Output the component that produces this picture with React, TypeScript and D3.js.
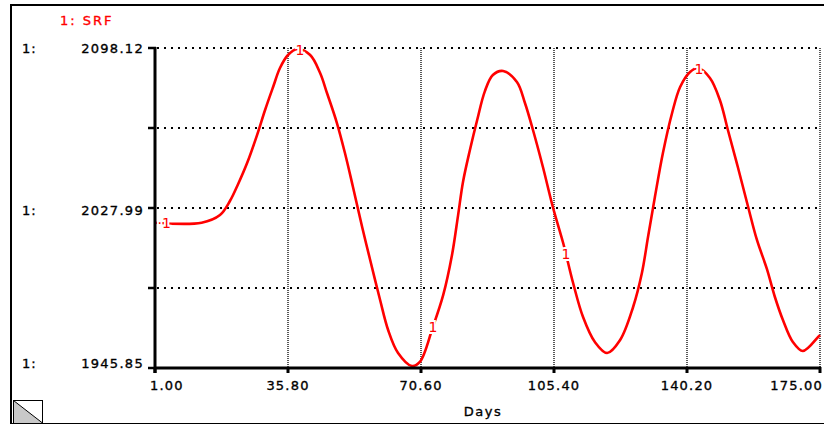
import React from "react";
import * as d3 from "d3";

const days = [1, 13.2, 18.0, 20.6, 22.7, 25.1, 27.7, 29.8, 31.9, 33.7, 35.8, 38.2, 41.6, 44.2, 46.0, 48.6, 50.7, 52.8, 55.2, 57.3, 59.9, 62.0, 64.6, 68.2, 70.3, 73.7, 76.4, 78.7, 80.3, 81.6, 83.4, 85.3, 87.3, 89.4, 92.1, 95.7, 97.8, 99.9, 102.5, 105.1, 107.8, 110.4, 113.0, 116.1, 119.3, 122.7, 126.1, 128.4, 130.0, 131.8, 133.9, 136.3, 138.4, 141.0, 143.1, 146.2, 148.8, 150.9, 153.5, 156.2, 158.5, 161.1, 163.2, 165.3, 167.9, 170.5, 174.5, 175];
const srf = [2015.0, 2015.0, 2018.65, 2025.3, 2033.2, 2043.4, 2056.7, 2068.62, 2079.56, 2088.6, 2094.79, 2097.64, 2094.79, 2086.22, 2076.71, 2062.43, 2048.16, 2031.98, 2012.94, 1997.24, 1978.21, 1963.93, 1952.99, 1946.8, 1948.71, 1965.36, 1980.5, 1999.5, 2018.5, 2034.5, 2049.58, 2063.86, 2077.5, 2085.27, 2087.18, 2081.94, 2071.95, 2059.1, 2041.5, 2022.46, 2005.33, 1986.3, 1970.12, 1958.22, 1952.99, 1959.17, 1974.88, 1991.06, 2008.19, 2027.22, 2048.16, 2067.19, 2079.56, 2086.7, 2088.6, 2083.84, 2073.38, 2059.1, 2041.5, 2022.46, 2006.76, 1993.0, 1979.64, 1968.69, 1958.22, 1953.94, 1960.6, 1961.55];

const xTicks = [1, 35.8, 70.6, 105.4, 140.2, 175];
const xTickLabels = ["1.00", "35.80", "70.60", "105.40", "140.20", "175.00"];
const yMin = 1945.85;
const yMax = 2098.12;
const yTickLabels = ["1945.85", "", "2027.99", "", "2098.12"];
const markerDays = [4.1, 38.9, 73.7, 108.5, 143.3];
const seriesName = "1: SRF";
const xTitle = "Days";

const FONT = "'DejaVu Sans', Verdana, sans-serif";
const RED = "#ff0000";

export default function App() {
  const x = d3.scaleLinear().domain([1, 175]).range([155, 820]);
  const y = d3.scaleLinear().domain([yMin, yMax]).range([368, 48]);
  const yTicks = d3.range(5).map((i) => yMin + (i * (yMax - yMin)) / 4);
  const pts = days.map((d, i) => [d, srf[i]] as [number, number]);
  const line = d3
    .line<[number, number]>()
    .x((d) => x(d[0]))
    .y((d) => y(d[1]))
    .curve(d3.curveCatmullRom.alpha(0.5));
  const interp = (t: number) => {
    const i = d3.bisectLeft(days, t);
    if (i <= 0) return srf[0];
    const t0 = days[i - 1], t1 = days[i];
    return srf[i - 1] + ((srf[i] - srf[i - 1]) * (t - t0)) / (t1 - t0);
  };
  const yLabelBase = [368, 0, 215, 0, 53];
  const txt = { stroke: "#000", strokeWidth: 0.35 };

  return (
    <div style={{ position: "fixed", left: 0, top: 0 }}>
      <svg width={824} height={425} style={{ display: "block", background: "#fff" }} fontFamily={FONT}>
        <rect x={0} y={0} width={824} height={425} fill="#fff" />
        {/* frame */}
        <line x1={11} y1={5} x2={824} y2={5} stroke="#000" strokeWidth={2} />
        <line x1={11} y1={4} x2={11} y2={424} stroke="#000" strokeWidth={2} />
        <line x1={10} y1={423.5} x2={824} y2={423.5} stroke="#000" strokeWidth={1} />

        {/* legend */}
        <text x={60} y={25} fill={RED} stroke={RED} strokeWidth={0.35} fontSize={13} letterSpacing={2}>{seriesName}</text>

        {/* horizontal grid */}
        {yTicks.slice(1).map((v, i) => (
          <line key={"h" + i} x1={157} x2={820} y1={y(v)} y2={y(v)} stroke="#000" strokeWidth={2} strokeDasharray="2 5" />
        ))}
        {/* vertical grid */}
        {xTicks.slice(1).map((v, i) => (
          <line key={"v" + i} x1={x(v)} x2={x(v)} y1={48} y2={367} stroke="#222" strokeWidth={1.5} strokeDasharray="1 1" />
        ))}

        {/* series */}
        <path d={line(pts) || ""} fill="none" stroke={RED} strokeWidth={2.6} strokeLinejoin="round" />
        {markerDays.map((t, i) => (
          <text
            key={"m" + i}
            x={x(t)}
            y={y(interp(t))}
            fill={RED}
            fontSize={14}
            textAnchor={i === 0 ? "end" : "middle"}
            dx={i === 0 ? 4 : 0}
            dominantBaseline="central"
            stroke="#fff"
            strokeWidth={4}
            paintOrder="stroke"
          >
            {i === 0 ? "·1" : "1"}
          </text>
        ))}

        {/* axes */}
        <line x1={155} x2={155} y1={47} y2={373} stroke="#000" strokeWidth={3} />
        <line x1={154} x2={821} y1={368} y2={368} stroke="#000" strokeWidth={3} />
        {yTicks.map((v, i) => (
          <line key={"yt" + i} x1={148} x2={156} y1={y(v)} y2={y(v)} stroke="#000" strokeWidth={2.5} />
        ))}
        {xTicks.map((v, i) => (
          <line key={"xt" + i} x1={x(v)} x2={x(v)} y1={367} y2={373} stroke="#000" strokeWidth={3} />
        ))}

        {/* y labels */}
        {yTicks.map((v, i) =>
          yTickLabels[i] ? (
            <g key={"yl" + i}>
              <text x={22} y={yLabelBase[i]} fontSize={13} letterSpacing={1} fill="#000" {...txt}>1:</text>
              <text x={144} y={yLabelBase[i]} fontSize={13} letterSpacing={1.3} textAnchor="end" fill="#000" {...txt}>
                {yTickLabels[i]}
              </text>
            </g>
          ) : null
        )}

        {/* x labels */}
        {xTicks.map((v, i) => (
          <text
            key={"xl" + i}
            x={i === 0 ? x(v) - 5 : i === xTicks.length - 1 ? 823 : x(v)}
            y={390}
            fontSize={13}
            letterSpacing={1.2}
            textAnchor={i === 0 ? "start" : i === xTicks.length - 1 ? "end" : "middle"}
            fill="#000"
            {...txt}
          >
            {xTickLabels[i]}
          </text>
        ))}
        <text x={483} y={416} fontSize={13} letterSpacing={1.5} textAnchor="middle" fill="#000" {...txt}>{xTitle}</text>

        {/* corner icon */}
        <g>
          <path d="M13.5,400.5 L42.5,423 L13.5,423 Z" fill="#c8c8c8" />
          <rect x={13.5} y={400.5} width={29} height={23} fill="none" stroke="#000" strokeWidth={1} />
          <line x1={13.5} y1={400.5} x2={42.5} y2={423} stroke="#000" strokeWidth={1} />
        </g>
      </svg>
    </div>
  );
}
